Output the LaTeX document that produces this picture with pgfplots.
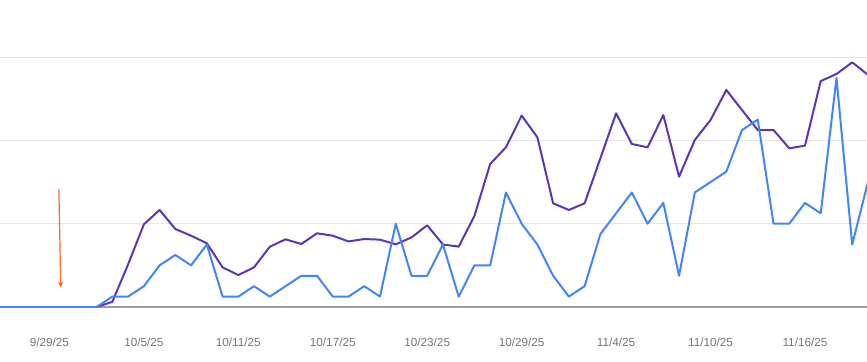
\documentclass[border=0pt]{standalone}
\usepackage{fontspec}
\setmainfont{Liberation Sans}
\usepackage{pgfplots}
\pgfplotsset{compat=1.18}
\usetikzlibrary{arrows.meta}
\definecolor{purp}{RGB}{94,53,177}
\definecolor{blu}{RGB}{66,133,244}
\definecolor{gridc}{RGB}{230,230,230}
\definecolor{basec}{RGB}{158,158,158}
\definecolor{txt}{RGB}{112,117,122}
\definecolor{arr}{RGB}{255,100,40}
\begin{document}
\begin{tikzpicture}
\useasboundingbox (0,-40.5pt) rectangle (650.25pt,230.25pt);
\begin{axis}[
  at={(0,0)}, anchor=south west,
  scale only axis, width=650.25pt, height=230.25pt,
  xmin=-3.14, xmax=51.94, ymin=0, ymax=29.49,
  axis line style={draw=none},
  ytick={8,16,24}, yticklabels={},
  ymajorgrids, grid style={gridc, line width=0.75pt},
  extra y ticks={0}, extra y tick labels={},
  extra y tick style={grid style={basec, line width=1pt}},
  major tick length=0pt,
  xtick={0,6,12,18,24,30,36,42,48},
  xticklabels={9/29/25,10/5/25,10/11/25,10/17/25,10/23/25,10/29/25,11/4/25,11/10/25,11/16/25},
  xticklabel style={font=\fontsize{8.8}{10}\selectfont, text=txt, anchor=base, yshift=-29.5pt},
  clip=true,
]
\addplot[purp, line width=1.5pt, line join=round] coordinates {
(-4,0)(-3,0)(-2,0)(-1,0)(0,0)(1,0)(2,0)(3,0)(4,0.5)(5,4.1)(6,7.94)(7,9.32)(8,7.49)(9,6.85)(10,6.12)
(11,3.81)(12,3.07)(13,3.81)(14,5.79)(15,6.5)(16,6.05)(17,7.08)(18,6.85)(19,6.3)(20,6.53)
(21,6.47)(22,6.02)(23,6.68)(24,7.85)(25,6.0)(26,5.8)(27,8.75)(28,13.74)(29,15.34)(30,18.38)
(31,16.3)(32,9.96)(33,9.32)(34,9.96)(35,14.28)(36,18.6)(37,15.66)(38,15.34)(39,18.44)(40,12.52)
(41,16.04)(42,17.96)(43,20.85)(44,18.92)(45,17.0)(46,17.0)(47,15.24)(48,15.5)(49,21.7)(50,22.38)
(51,23.5)(52,22.3)};
\addplot[blu, line width=1.5pt, line join=round] coordinates {
(-4,0)(-3,0)(-2,0)(-1,0)(0,0)(1,0)(2,0)(3,0)(4,1)(5,1)(6,2)(7,4)(8,5)(9,4)(10,6)
(11,1)(12,1)(13,2)(14,1)(15,2)(16,3)(17,3)(18,1)(19,1)(20,2)
(21,1)(22,8)(23,3)(24,3)(25,6)(26,1)(27,4)(28,4)(29,11)(30,8)
(31,6)(32,3)(33,1)(34,2)(35,7)(36,9)(37,11)(38,8)(39,10)(40,3)
(41,11)(42,12)(43,13)(44,17)(45,18)(46,8)(47,8)(48,10)(49,9)(50,22)
(51,6)(52,12)};
\draw[arr, line width=0.9pt, -{Stealth[length=4pt,width=4pt]}] (axis cs:0.60,11.34) -- (axis cs:0.72,1.9);
\end{axis}
\end{tikzpicture}
\end{document}
